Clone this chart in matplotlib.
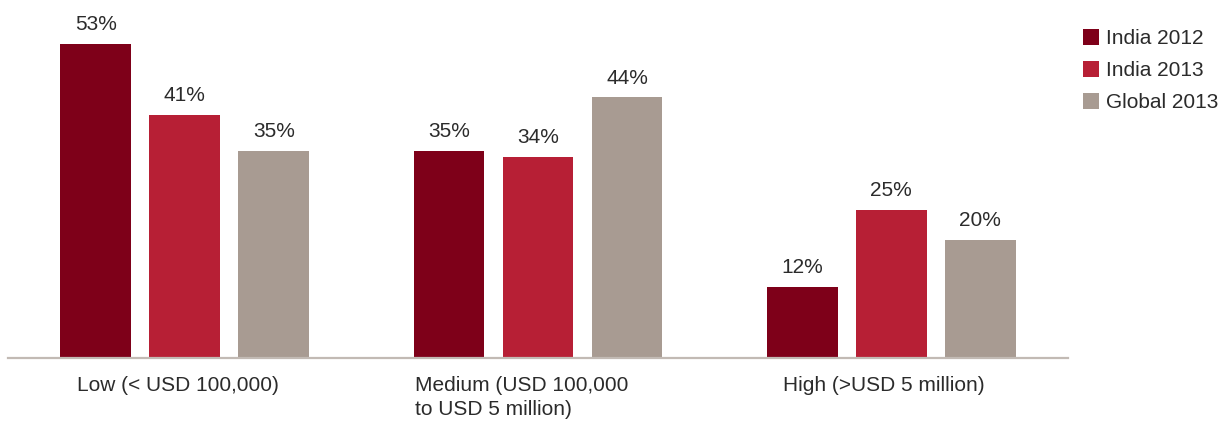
import matplotlib
matplotlib.use("Agg")
import matplotlib.pyplot as plt
from matplotlib.patches import Patch
import numpy as np

plt.rcParams['font.family'] = ['Liberation Sans', 'DejaVu Sans']

categories = ["Low (< USD 100,000)", "Medium (USD 100,000\nto USD 5 million)", "High (>USD 5 million)"]
series_names = ["India 2012", "India 2013", "Global 2013"]
india_2012 = [53, 35, 12]
india_2013 = [41, 34, 25]
global_2013 = [35, 44, 20]
colors = ["#7e0019", "#b71f35", "#a89b92"]

W, H = 1226, 421
fig = plt.figure(figsize=(W / 100, H / 100), dpi=100)
ax = fig.add_axes([8 / W, 63 / H, 1060 / W, 355.5 / H])

x = np.arange(len(categories))
step = 0.252
width = 0.2
text_color = "#2b2b2b"
for i, (vals, col) in enumerate(zip([india_2012, india_2013, global_2013], colors)):
    pos = x + (i - 1) * step
    bars = ax.bar(pos, vals, width=width, color=col, zorder=2)
    for b, v in zip(bars, vals):
        ax.annotate(f"{v}%", (b.get_x() + b.get_width() / 2, v),
                    xytext=(0, 7), textcoords="offset points",
                    ha="center", va="bottom", fontsize=15, color=text_color)

ax.set_xlim(-0.5, 2.5)
ax.set_ylim(0, 60)
for s in ["top", "right", "left"]:
    ax.spines[s].set_visible(False)
ax.spines["bottom"].set_color("#c2bab4")
ax.spines["bottom"].set_linewidth(1.6)
ax.spines["bottom"].set_zorder(3)
ax.set_yticks([])
ax.set_xticks([])

offsets = [-0.02, -0.045, -0.02]
for xi, lab, off in zip(x, categories, offsets):
    ax.annotate(lab, (xi + off, 0), xytext=(0, -13), textcoords="offset points",
                ha="center", va="top", multialignment="left",
                fontsize=15, color=text_color, linespacing=1.3,
                annotation_clip=False)

handles = [Patch(facecolor=c, edgecolor="none") for c in colors]
fig.legend(handles, series_names, loc="upper left",
           bbox_to_anchor=(1075 / W, 1 - 21 / H), frameon=False,
           fontsize=15, handlelength=0.75, handleheight=0.75,
           handletextpad=0.35, labelspacing=0.62, borderaxespad=0,
           labelcolor=text_color)

fig.savefig("out.png", dpi=100, facecolor="white")
